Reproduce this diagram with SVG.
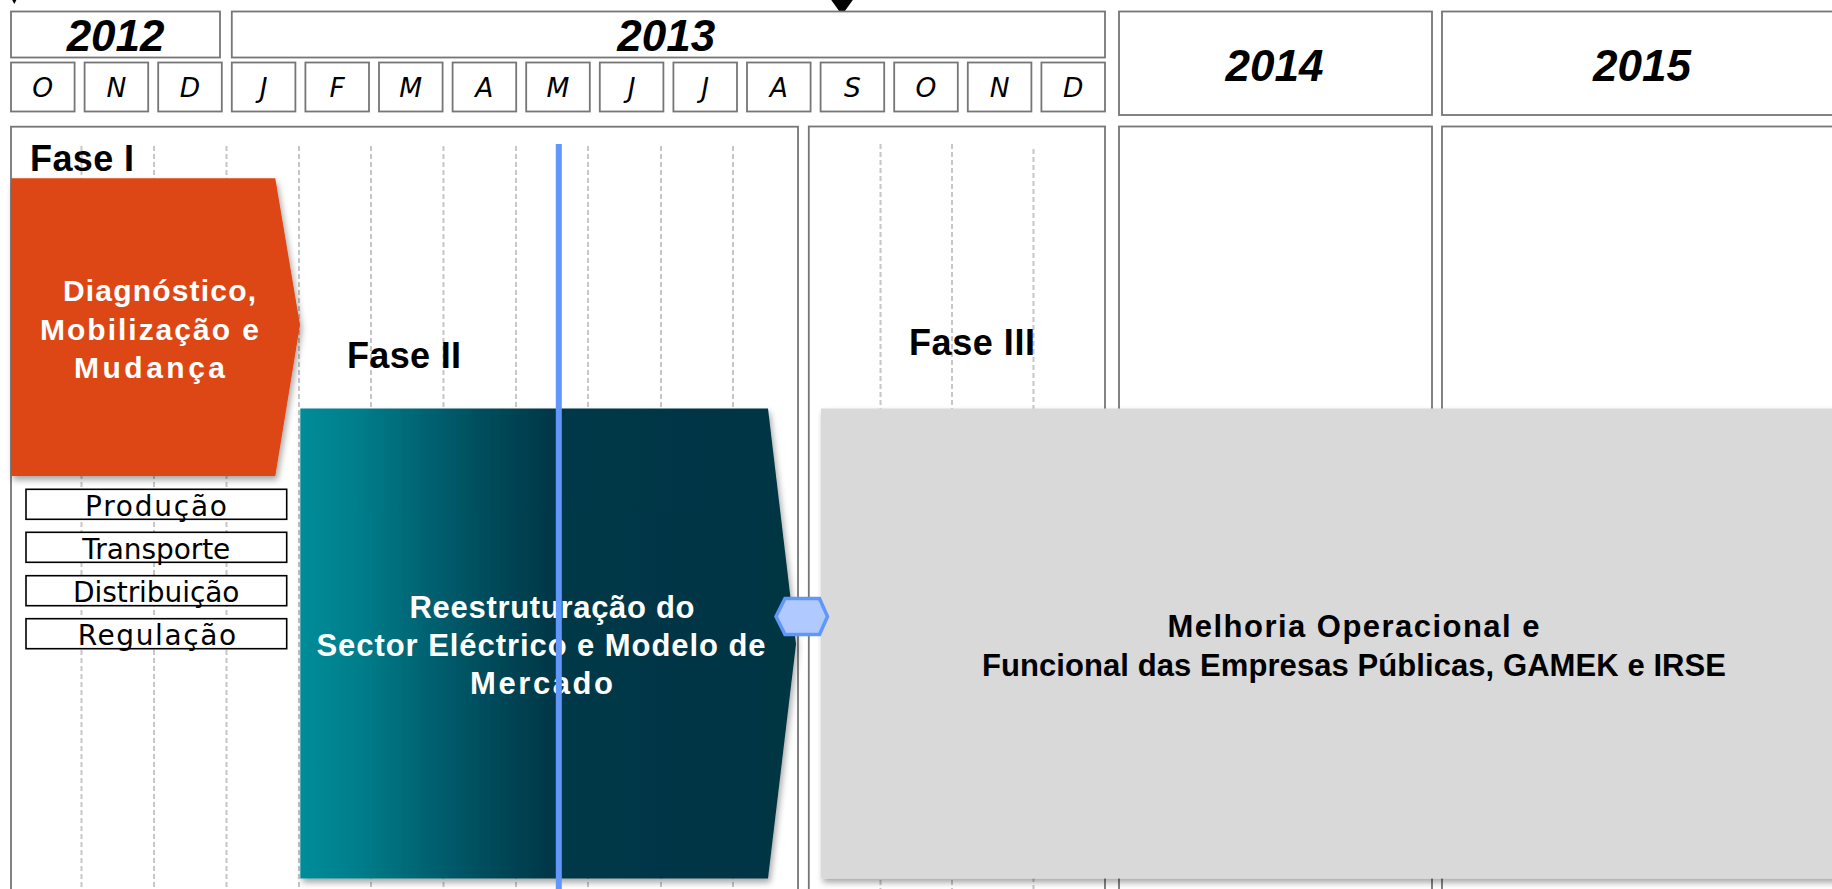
<svg xmlns="http://www.w3.org/2000/svg" width="1832" height="889" viewBox="0 0 1832 889">
<defs>
<style>
.box{fill:#ffffff;stroke:#767676;stroke-width:1.8}
.year{font-family:"Liberation Sans",Arial,sans-serif;font-weight:bold;font-style:italic;font-size:44px;fill:#000;text-anchor:middle}
.month{font-family:"DejaVu Sans",sans-serif;font-style:italic;font-size:26.5px;fill:#000;text-anchor:middle}
.grid{stroke:#c6c6c6;stroke-width:2;stroke-dasharray:5 3;fill:none}
.fase{font-family:"Liberation Sans",Arial,sans-serif;font-weight:bold;font-size:36px;fill:#000}
.wlabel{font-family:"Liberation Sans",Arial,sans-serif;font-weight:bold;font-size:30px;fill:#ffffff}
.blabel{font-family:"Liberation Sans",Arial,sans-serif;font-weight:bold;font-size:31px;fill:#000}
.area{fill:#ffffff;stroke:#000;stroke-width:1.6}
.atext{font-family:"DejaVu Sans",sans-serif;font-size:28px;fill:#000}
.marker{fill:#000}
</style>
<linearGradient id="tealGrad" x1="0" y1="0" x2="1" y2="0">
<stop offset="0" stop-color="#008C99"/>
<stop offset="0.12" stop-color="#007D8A"/>
<stop offset="0.25" stop-color="#006372"/>
<stop offset="0.38" stop-color="#004B5B"/>
<stop offset="0.5" stop-color="#003848"/>
<stop offset="1" stop-color="#013443"/>
</linearGradient>
<filter id="shadow" x="-5%" y="-5%" width="115%" height="115%">
<feDropShadow dx="2" dy="4" stdDeviation="3" flood-color="#000" flood-opacity="0.35"/>
</filter>
</defs>

<g id="timeline-markers">
<polygon class="marker" points="8,-8 20.5,-8 14.3,4"/>
<polygon class="marker" points="830.5,-1 853.5,-1 842,15"/>
</g>

<g id="header">
<rect class="box" x="11" y="11.5" width="209" height="46"/>
<text class="year" x="115.6" y="50.7">2012</text>
<rect class="box" x="231.8" y="11.5" width="873.2" height="46"/>
<text class="year" x="666.3" y="50.7">2013</text>
<rect class="box" x="1119" y="11.5" width="313" height="103.5"/>
<text class="year" x="1274.5" y="80.7">2014</text>
<rect class="box" x="1442" y="11.5" width="400" height="103.5"/>
<text class="year" x="1642" y="80.7">2015</text>
<g id="months">
<rect class="box" x="11" y="62.5" width="63.6" height="49"/><text class="month" x="42.8" y="97">O</text>
<rect class="box" x="84.6" y="62.5" width="63.6" height="49"/><text class="month" x="116.4" y="97">N</text>
<rect class="box" x="158.2" y="62.5" width="63.6" height="49"/><text class="month" x="190" y="97">D</text>
<rect class="box" x="231.8" y="62.5" width="63.6" height="49"/><text class="month" x="263.6" y="97">J</text>
<rect class="box" x="305.4" y="62.5" width="63.6" height="49"/><text class="month" x="337.2" y="97">F</text>
<rect class="box" x="379" y="62.5" width="63.6" height="49"/><text class="month" x="410.8" y="97">M</text>
<rect class="box" x="452.6" y="62.5" width="63.6" height="49"/><text class="month" x="484.4" y="97">A</text>
<rect class="box" x="526.2" y="62.5" width="63.6" height="49"/><text class="month" x="558" y="97">M</text>
<rect class="box" x="599.8" y="62.5" width="63.6" height="49"/><text class="month" x="631.6" y="97">J</text>
<rect class="box" x="673.4" y="62.5" width="63.6" height="49"/><text class="month" x="705.2" y="97">J</text>
<rect class="box" x="747" y="62.5" width="63.6" height="49"/><text class="month" x="778.8" y="97">A</text>
<rect class="box" x="820.6" y="62.5" width="63.6" height="49"/><text class="month" x="852.4" y="97">S</text>
<rect class="box" x="894.2" y="62.5" width="63.6" height="49"/><text class="month" x="926" y="97">O</text>
<rect class="box" x="967.8" y="62.5" width="63.6" height="49"/><text class="month" x="999.6" y="97">N</text>
<rect class="box" x="1041.4" y="62.5" width="63.6" height="49"/><text class="month" x="1073.2" y="97">D</text>
</g>
</g>

<g id="panels">
<rect class="box" x="11" y="126.7" width="787" height="800"/>
<rect class="box" x="808.8" y="126.5" width="296.2" height="800"/>
<rect class="box" x="1119" y="126.5" width="313" height="800"/>
<rect class="box" x="1442" y="126.5" width="400" height="800"/>
</g>

<g id="gridlines">
<line class="grid" x1="81.5" y1="146" x2="81.5" y2="889"/>
<line class="grid" x1="154" y1="146" x2="154" y2="889"/>
<line class="grid" x1="226.5" y1="146" x2="226.5" y2="889"/>
<line class="grid" x1="299" y1="146" x2="299" y2="889"/>
<line class="grid" x1="371" y1="146" x2="371" y2="889"/>
<line class="grid" x1="443.5" y1="146" x2="443.5" y2="889"/>
<line class="grid" x1="516" y1="146" x2="516" y2="889"/>
<line class="grid" x1="588" y1="146" x2="588" y2="889"/>
<line class="grid" x1="661" y1="146" x2="661" y2="889"/>
<line class="grid" x1="733" y1="146" x2="733" y2="889"/>
<line class="grid" x1="880.5" y1="144" x2="880.5" y2="889"/>
<line class="grid" x1="952" y1="144" x2="952" y2="889"/>
<line class="grid" x1="1033.5" y1="149" x2="1033.5" y2="889"/>
</g>

<g id="phase-labels">
<text class="fase" x="30" y="171" textLength="104" lengthAdjust="spacing">Fase I</text>
<text class="fase" x="347" y="367.5" textLength="114" lengthAdjust="spacing">Fase II</text>
<text class="fase" x="909" y="354.5" textLength="126" lengthAdjust="spacing">Fase III</text>
</g>

<g id="node-fase1">
<polygon points="11,178.3 275.3,178.3 300,325 275.3,476 11,476" fill="#DD4614" filter="url(#shadow)"/>
<text class="wlabel" x="63" y="301" textLength="193" lengthAdjust="spacing">Diagnóstico,</text>
<text class="wlabel" x="40" y="340" textLength="219" lengthAdjust="spacing">Mobilização e</text>
<text class="wlabel" x="74" y="378" textLength="151" lengthAdjust="spacing">Mudança</text>
</g>

<g id="node-areas">
<g id="area-producao">
<rect class="area" x="26" y="489.3" width="260.7" height="30"/>
<text class="atext" x="85" y="515.7" textLength="142" lengthAdjust="spacing">Produção</text>
</g>
<g id="area-transporte">
<rect class="area" x="26" y="532.3" width="260.7" height="30"/>
<text class="atext" x="82.3" y="559.3" textLength="148" lengthAdjust="spacing">Transporte</text>
</g>
<g id="area-distribuicao">
<rect class="area" x="26" y="575.7" width="260.7" height="30"/>
<text class="atext" x="73" y="601.7" textLength="166.5" lengthAdjust="spacing">Distribuição</text>
</g>
<g id="area-regulacao">
<rect class="area" x="26" y="618.7" width="260.7" height="30"/>
<text class="atext" x="77.7" y="645" textLength="158.5" lengthAdjust="spacing">Regulação</text>
</g>
</g>

<g id="node-fase2">
<polygon points="300.3,408.5 768,408.5 796,644 768,878.6 300.3,878.6" fill="url(#tealGrad)" filter="url(#shadow)"/>
<text class="wlabel" style="font-size:31px" x="409.5" y="618" textLength="285" lengthAdjust="spacing">Reestruturação do</text>
<text class="wlabel" style="font-size:31px" x="316.5" y="655.7" textLength="449" lengthAdjust="spacing">Sector Eléctrico e Modelo de</text>
<text class="wlabel" style="font-size:31px" x="470" y="694" textLength="143" lengthAdjust="spacing">Mercado</text>
</g>

<g id="node-fase3">
<rect x="821" y="408.5" width="1030" height="470" fill="#D9D9D9" filter="url(#shadow)"/>
<text class="blabel" x="1167.5" y="636.7" textLength="372" lengthAdjust="spacing">Melhoria Operacional e</text>
<text class="blabel" x="982" y="675.7" textLength="744" lengthAdjust="spacing">Funcional das Empresas Públicas, GAMEK e IRSE</text>
</g>

<g id="connectors">
<rect id="today-line" x="555.8" y="144" width="6" height="745" fill="#6196FA"/>
</g>

<g id="milestone">
<polygon points="776,616.5 785,598.5 819.5,598.5 827.5,616.5 819.5,634.5 785,634.5" fill="#B0CAFF" stroke="#6196FA" stroke-width="3.5" stroke-linejoin="miter"/>
</g>
</svg>
